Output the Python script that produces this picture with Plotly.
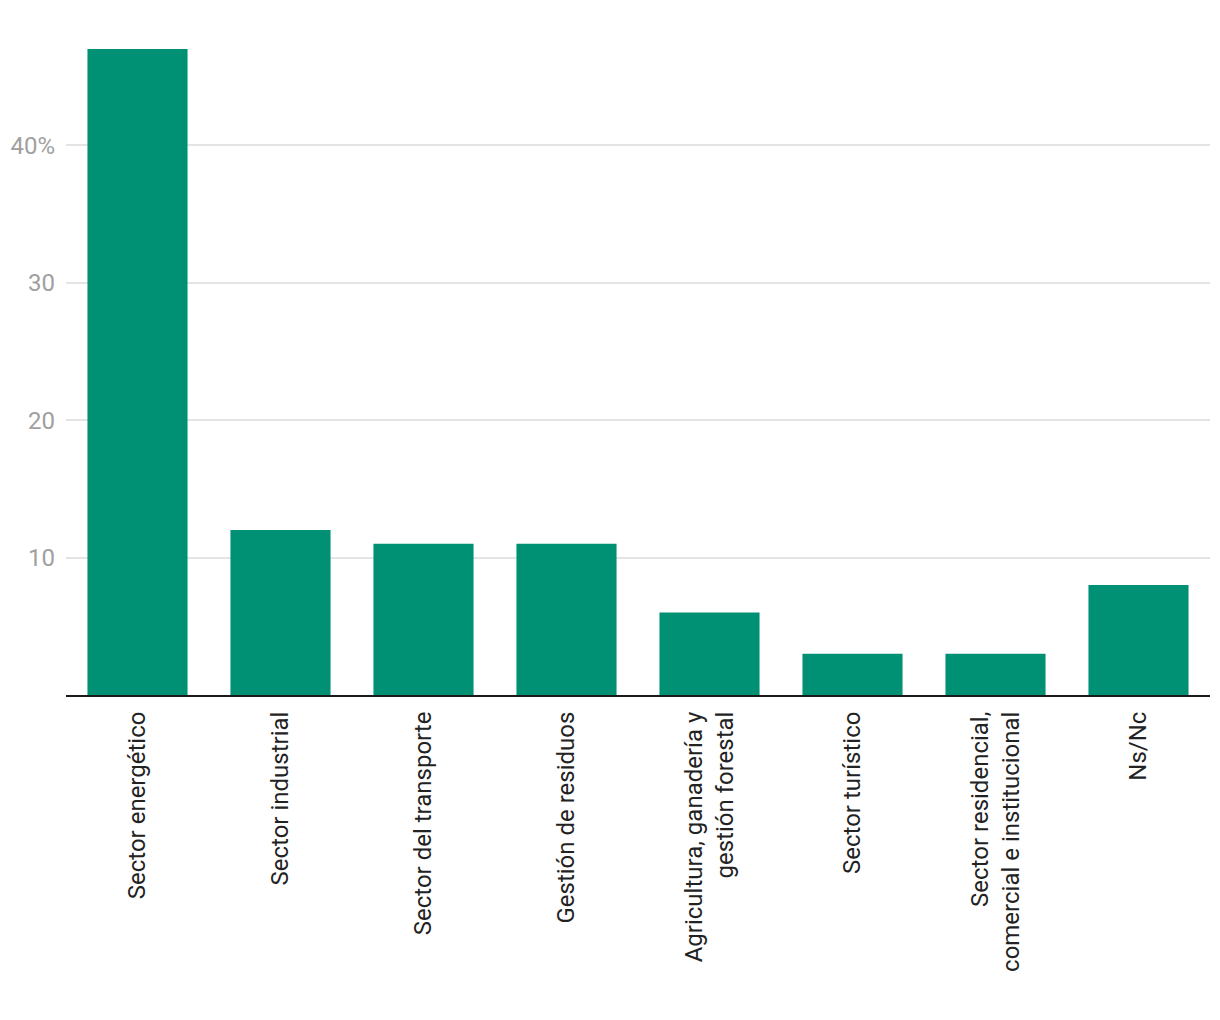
import plotly.graph_objects as go

categories = [
    "Sector energético",
    "Sector industrial",
    "Sector del transporte",
    "Gestión de residuos",
    "Agricultura, ganadería y<br>gestión forestal",
    "Sector turístico",
    "Sector residencial,<br>comercial e institucional",
    "Ns/Nc",
]
values = [47, 12, 11, 11, 6, 3, 3, 8]
y_tick_vals = [10, 20, 30, 40]
y_tick_text = ["10", "20", "30", "40%"]

fig = go.Figure(
    go.Bar(
        x=categories,
        y=values,
        marker=dict(color="#009175", line=dict(width=0)),
    )
)

fig.update_layout(
    width=1220,
    height=1020,
    margin=dict(l=58, r=18, t=41, b=333, autoexpand=False),
    paper_bgcolor="white",
    plot_bgcolor="white",
    bargap=0.3,
    showlegend=False,
    font=dict(family="Roboto", size=24, color="#222222"),
)

fig.update_xaxes(
    tickangle=-90,
    showline=True,
    linecolor="#1a1a1a",
    linewidth=2,
    showgrid=False,
    ticks="",
    automargin=False,
    ticklabelstandoff=5,
    tickfont=dict(family="Roboto", size=24, color="#222222"),
)

fig.update_yaxes(
    range=[0, 47],
    tickvals=y_tick_vals,
    ticktext=y_tick_text,
    showgrid=True,
    gridcolor="#e4e4e4",
    gridwidth=2,
    zeroline=False,
    showline=False,
    ticks="",
    automargin=False,
    ticklabelstandoff=10,
    tickfont=dict(family="Roboto", size=24, color="#a0a0a0"),
)

fig.write_html("out.html")
